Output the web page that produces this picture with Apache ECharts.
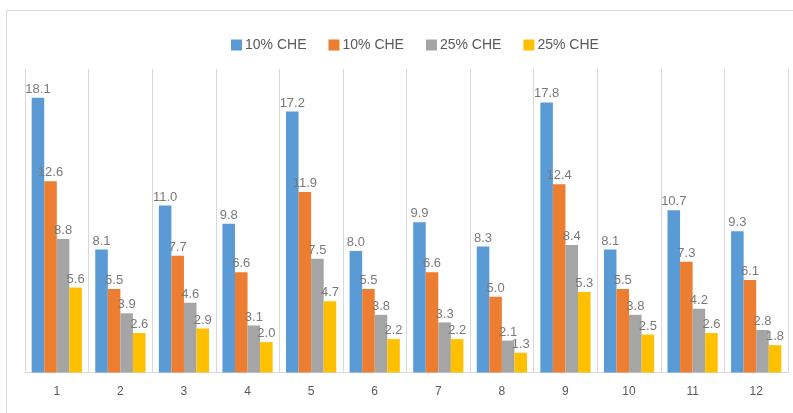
<!DOCTYPE html>
<html>
<head>
<meta charset="utf-8">
<script src="https://cdn.jsdelivr.net/npm/echarts@6/dist/echarts.min.js"></script>
<style>
  html, body { margin: 0; padding: 0; background: #ffffff; }
  #chart { width: 793px; height: 413px; }
</style>
</head>
<body>
<div id="chart"></div>
<script>
// Categories along the x axis
const categories = ['1', '2', '3', '4', '5', '6', '7', '8', '9', '10', '11', '12'];

// Series names (as shown in the legend)
const seriesNames = ['10% CHE', '10% CHE ', '25% CHE', '25% CHE '];

// Series values
const blueValues   = [18.1, 8.1, 11.0, 9.8, 17.2, 8.0, 9.9, 8.3, 17.8, 8.1, 10.7, 9.3];
const orangeValues = [12.6, 5.5, 7.7, 6.6, 11.9, 5.5, 6.6, 5.0, 12.4, 5.5, 7.3, 6.1];
const grayValues   = [8.8, 3.9, 4.6, 3.1, 7.5, 3.8, 3.3, 2.1, 8.4, 3.8, 4.2, 2.8];
const yellowValues = [5.6, 2.6, 2.9, 2.0, 4.7, 2.2, 2.2, 1.3, 5.3, 2.5, 2.6, 1.8];

const colors = ['#5B9BD5', '#ED7D31', '#A5A5A5', '#FFC000'];
const allValues = [blueValues, orangeValues, grayValues, yellowValues];
const fontFamily = '"Liberation Sans", Arial, sans-serif';

const chart = echarts.init(document.getElementById('chart'), null, { renderer: 'canvas' });

chart.setOption({
  animation: false,
  backgroundColor: '#ffffff',
  color: colors,
  textStyle: { fontFamily: fontFamily },
  graphic: [{
    type: 'rect',
    shape: { x: 6.5, y: 10.5, width: 820, height: 430 },
    style: { fill: 'none', stroke: '#d9d9d9', lineWidth: 1 },
    silent: true
  }],
  legend: {
    top: 33,
    left: 226,
    itemWidth: 11,
    itemHeight: 11,
    itemGap: 22,
    icon: 'rect',
    textStyle: { color: '#595959', fontSize: 14, fontFamily: fontFamily, padding: [0, 0, 0, -2] },
    formatter: function (name) { return name.trim(); },
    data: seriesNames
  },
  grid: { left: 25, right: 5, top: 69, bottom: 40.5, containLabel: false },
  xAxis: {
    type: 'category',
    data: categories,
    boundaryGap: true,
    axisLine: { show: true, lineStyle: { color: '#d9d9d9', width: 1 } },
    axisTick: { show: false },
    axisLabel: { color: '#595959', fontSize: 12, margin: 13, fontFamily: fontFamily },
    splitLine: { show: true, lineStyle: { color: '#d9d9d9', width: 1 } }
  },
  yAxis: {
    type: 'value',
    min: 0,
    max: 20,
    interval: 5,
    show: false,
    splitLine: { show: false }
  },
  series: allValues.map(function (vals, i) {
    return {
      name: seriesNames[i],
      type: 'bar',
      data: vals,
      barGap: '0%',
      barCategoryGap: '21%',
      itemStyle: { color: colors[i] },
      label: {
        show: true,
        position: 'top',
        distance: 2,
        color: '#7a7a7a',
        fontSize: 13,
        fontFamily: fontFamily,
        formatter: function (p) { return p.value.toFixed(1); }
      }
    };
  })
});
</script>
</body>
</html>
